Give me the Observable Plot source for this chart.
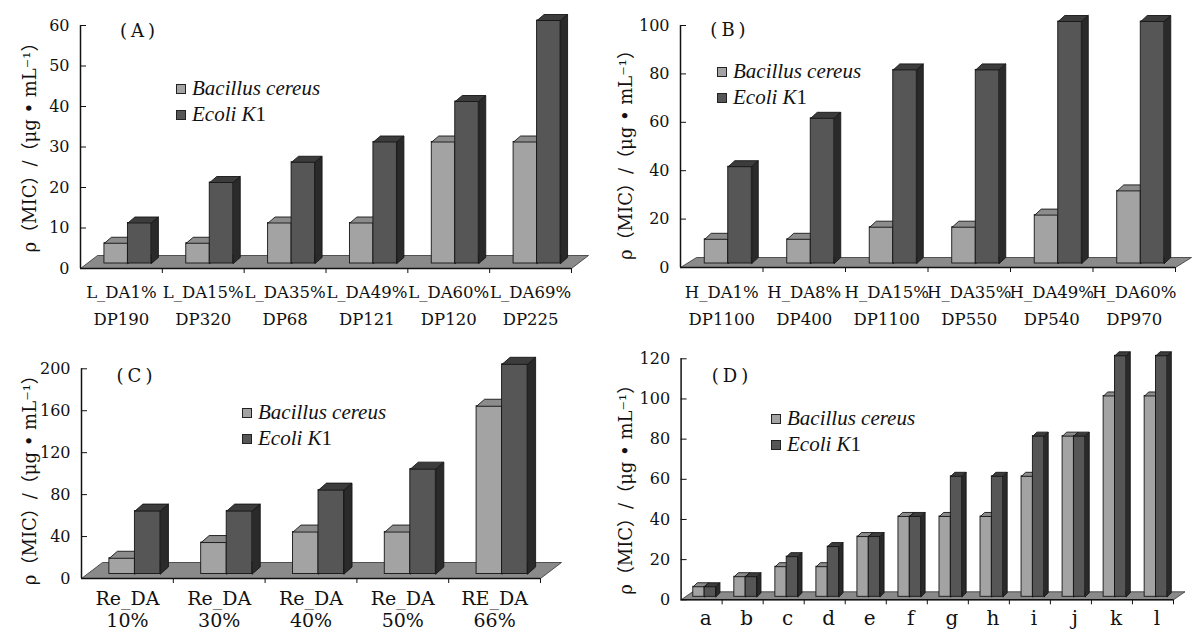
<!DOCTYPE html>
<html><head><meta charset="utf-8">
<script src="https://cdn.jsdelivr.net/npm/d3@7"></script>
<script src="https://cdn.jsdelivr.net/npm/@observablehq/plot@0.6"></script>
<style>
body{margin:0;background:#fff;}
#root{position:relative;width:1192px;height:630px;overflow:hidden;background:#fff;}
.panel{position:absolute;}
.panel svg{overflow:visible;background:transparent;}
g[aria-label="xlabels"] text{letter-spacing:-0.7px;}
.legend{position:absolute;font-family:"Liberation Serif",serif;font-style:italic;font-size:21px;color:#111;}
.legend .row{height:26px;line-height:26px;white-space:nowrap;display:flex;align-items:center;}
.legend .up{font-style:normal;}
.sw{display:inline-block;box-sizing:border-box;width:10px;height:10px;border:1px solid #222;margin-right:6px;position:relative;top:1px;}
.tag{position:absolute;font-family:"DejaVu Serif",serif;font-size:18px;letter-spacing:4px;transform:translate(-50%,-50%);color:#111;white-space:nowrap;}
</style></head><body><div id="root"></div>
<script>
// ---------- data ----------
const seriesNames = ["Bacillus cereus", "Ecoli K1"];
const yTitle = "ρ（MIC）/（μg • mL⁻¹）";

const labelsA1 = ["L_DA1%", "L_DA15%", "L_DA35%", "L_DA49%", "L_DA60%", "L_DA69%"];
const labelsA2 = ["DP190", "DP320", "DP68", "DP121", "DP120", "DP225"];
const bacA = [5, 5, 10, 10, 30, 30];
const ecoA = [10, 20, 25, 30, 40, 60];
const ticksA = [0, 10, 20, 30, 40, 50, 60];

const labelsB1 = ["H_DA1%", "H_DA8%", "H_DA15%", "H_DA35%", "H_DA49%", "H_DA60%"];
const labelsB2 = ["DP1100", "DP400", "DP1100", "DP550", "DP540", "DP970"];
const bacB = [10, 10, 15, 15, 20, 30];
const ecoB = [40, 60, 80, 80, 100, 100];
const ticksB = [0, 20, 40, 60, 80, 100];

const labelsC1 = ["Re_DA", "Re_DA", "Re_DA", "Re_DA", "RE_DA"];
const labelsC2 = ["10%", "30%", "40%", "50%", "66%"];
const bacC = [15, 30, 40, 40, 160];
const ecoC = [60, 60, 80, 100, 200];
const ticksC = [0, 40, 80, 120, 160, 200];

const labelsD = ["a", "b", "c", "d", "e", "f", "g", "h", "i", "j", "k", "l"];
const bacD = [5, 10, 15, 15, 30, 40, 40, 40, 60, 80, 100, 100];
const ecoD = [5, 10, 20, 25, 30, 40, 60, 60, 80, 80, 120, 120];
const ticksD = [0, 20, 40, 60, 80, 100, 120];

// ---------- styles ----------
const faceColors = [
  {front: "#a3a3a3", top: "#8c8c8c", side: "#6e6e6e"},
  {front: "#565656", top: "#3c3c3c", side: "#2a2a2a"}
];
const edge = "#161616";
const floorColor = "#8a8a8a";

const root = document.getElementById("root");

function panel(cfg) {
  const {tag, tagPos, left, top, width = 596, height, ml, mr, mt, mb,
    labels, bac, eco, ymax, ticks, floor: [fdx, fdy], shift: [sx, sy],
    depth: [bdx, bdy], bw, labelFont, labelDy, labelLH, labelDx = 0,
    titleDy, legendPos} = cfg;
  const n = labels.length;
  const kx = (width - ml - mr) / n;
  const ky = (height - mt - mb) / ymax;
  const ux = px => px / kx, uy = px => px / ky;
  const c0 = (1 - 2 * bw) / 2;

  const series = [bac, eco].map((vals, s) => vals.map((v, i) => {
    const x1 = i + c0 + s * bw + ux(sx), x2 = x1 + bw;
    return {id: s + "-" + i, s, i, x1, x2, y1: uy(sy), y2: v + uy(sy)};
  }));
  const poly = (b, pts) => pts.map(([x, y]) => ({id: b.id, x, y}));
  const topFace = b => poly(b, [[b.x1, b.y2], [b.x2, b.y2], [b.x2 + ux(bdx), b.y2 + uy(bdy)], [b.x1 + ux(bdx), b.y2 + uy(bdy)], [b.x1, b.y2]]);
  const sideFace = b => poly(b, [[b.x2, b.y1], [b.x2 + ux(bdx), b.y1 + uy(bdy)], [b.x2 + ux(bdx), b.y2 + uy(bdy)], [b.x2, b.y2], [b.x2, b.y1]]);
  const floorPts = [[0, 0], [n, 0], [n + ux(fdx), uy(fdy)], [ux(fdx), uy(fdy)], [0, 0]].map(([x, y]) => ({id: "floor", x, y}));

  const marks = [
    Plot.line(floorPts, {x: "x", y: "y", z: "id", fill: floorColor, stroke: "#333", strokeWidth: 0.8, strokeLinejoin: "miter"}),
    Plot.ruleY([0], {x1: 0, x2: n, stroke: "#111", strokeWidth: 1.5}),
    Plot.ruleX(d3.range(1, n + 1), {y1: 0, y2: -uy(5), stroke: "#111", strokeWidth: 1}),
    Plot.ruleX([0], {y1: 0, y2: ymax, stroke: "#111", strokeWidth: 1.5}),
    Plot.ruleY(ticks, {x1: 0, x2: ux(6), stroke: "#111", strokeWidth: 1})
  ];
  series.forEach((bars, s) => {
    const c = faceColors[s];
    marks.push(
      Plot.rect(bars, {x1: "x1", x2: "x2", y1: "y1", y2: "y2", fill: c.front, stroke: edge, strokeWidth: 0.9}),
      Plot.line(bars.flatMap(topFace), {x: "x", y: "y", z: "id", fill: c.top, stroke: edge, strokeWidth: 0.9, strokeLinejoin: "miter"}),
      Plot.line(bars.flatMap(sideFace), {x: "x", y: "y", z: "id", fill: c.side, stroke: edge, strokeWidth: 0.9, strokeLinejoin: "miter"})
    );
  });
  marks.push(
    Plot.axisY(ticks, {tickSize: 0, tickPadding: 11, fontSize: 16, fontFamily: "DejaVu Serif", label: null, fill: "#111"}),
    Plot.text(labels, {x: (d, i) => i + 0.5 + ux(labelDx), frameAnchor: "bottom", dy: labelDy, lineAnchor: "top",
      lineHeight: labelLH, text: d => d, fontSize: labelFont, fontFamily: "DejaVu Serif", fill: "#111", ariaLabel: "xlabels"}),
    Plot.text([yTitle], {frameAnchor: "left", dx: 30 - ml, dy: titleDy, rotate: -90, text: d => d, textAnchor: "middle",
      fontSize: 18, fontFamily: "DejaVu Serif, Noto Sans CJK SC", fill: "#111", lineAnchor: "middle", ariaLabel: "ytitle"})
  );

  const svg = Plot.plot({
    width, height, marginLeft: ml, marginRight: mr, marginTop: mt, marginBottom: mb,
    x: {type: "linear", domain: [0, n], axis: null},
    y: {type: "linear", domain: [0, ymax]},
    style: {fontFamily: "DejaVu Serif", fontSize: "16px", color: "#111", background: "transparent", overflow: "visible"},
    marks
  });
  // italic Greek letters in the y title
  d3.select(svg).selectAll('g[aria-label="ytitle"] text').each(function () {
    const t = this.textContent;
    this.textContent = "";
    for (const ch of t) {
      const ts = document.createElementNS("http://www.w3.org/2000/svg", "tspan");
      ts.textContent = ch;
      if (ch === "ρ" || ch === "μ") ts.setAttribute("font-style", "italic");
      this.appendChild(ts);
    }
  });
  const div = document.createElement("div");
  div.className = "panel";
  div.style.left = left + "px";
  div.style.top = top + "px";
  div.appendChild(svg);
  root.appendChild(div);

  // legend
  const lg = document.createElement("div");
  lg.className = "legend";
  lg.style.left = legendPos[0] + "px";
  lg.style.top = (legendPos[1] - 13) + "px";
  seriesNames.forEach((name, s) => {
    const row = document.createElement("div");
    row.className = "row";
    row.innerHTML = `<span class="sw" style="background:${faceColors[s].front}"></span><span>${name.replace(/(\d+)$/, '<span class="up">$1</span>')}</span>`;
    lg.appendChild(row);
  });
  root.appendChild(lg);

  const tg = document.createElement("div");
  tg.className = "tag";
  tg.textContent = tag;
  tg.style.left = tagPos[0] + "px";
  tg.style.top = tagPos[1] + "px";
  root.appendChild(tg);
}

const join2 = (a, b) => a.map((d, i) => d + "\n" + b[i]);

panel({tag: "(A)", tagPos: [139.5, 29.5], left: 0, top: 0, height: 335, ml: 80, mr: 25, mt: 25, mb: 67,
  labels: join2(labelsA1, labelsA2), bac: bacA, eco: ecoA, ymax: 60, ticks: ticksA,
  floor: [17, 13], shift: [6.5, 5], depth: [7, 6], bw: 0.287,
  labelFont: 16.5, labelDy: 10, labelLH: 1.66, titleDy: -4, legendPos: [176, 88]});

panel({tag: "(B)", tagPos: [730, 28.5], left: 596, top: 0, height: 335, ml: 84, mr: 17, mt: 25, mb: 68,
  labels: join2(labelsB1, labelsB2), bac: bacB, eco: ecoB, ymax: 100, ticks: ticksB,
  floor: [16, 10], shift: [6.5, 4], depth: [6.5, 6], bw: 0.285,
  labelFont: 16.5, labelDy: 11, labelLH: 1.66, titleDy: 4, legendPos: [717, 71]});

panel({tag: "(C)", tagPos: [136.5, 374.5], left: 0, top: 315, height: 315, ml: 81, mr: 56, mt: 53.3, mb: 52,
  labels: join2(labelsC1, labelsC2), bac: bacC, eco: ecoC, ymax: 200, ticks: ticksC,
  floor: [21, 16], shift: [7.5, 4.5], depth: [8, 7], bw: 0.278,
  labelFont: 19, labelDy: 10, labelLH: 1.2, titleDy: 2, legendPos: [242, 412.3]});

panel({tag: "(D)", tagPos: [732, 374.5], left: 596, top: 315, height: 315, ml: 84.6, mr: 19, mt: 43.3, mb: 30.7,
  labels: labelsD, bac: bacD, eco: ecoD, ymax: 120, ticks: ticksD,
  floor: [11.5, 8], shift: [3, 3], depth: [4, 4], bw: 0.276,
  labelFont: 20, labelDy: 8.5, labelLH: 1.2, labelDx: 4, titleDy: 6, legendPos: [771, 417.7]});
</script></body></html>
